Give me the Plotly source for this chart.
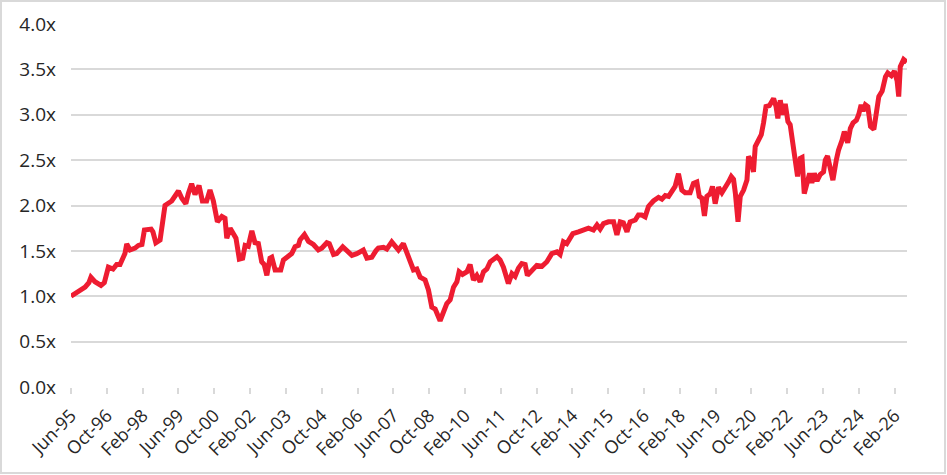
import plotly.graph_objects as go

# months since Jun-1995 and the multiple at each point
months = [
    0, 2, 3.3, 5, 6.3, 8, 8.9, 10.7, 13.4, 14.9, 16.7, 18.8, 20.4, 21.9, 24.1, 24.9,
    26.4, 28.6, 30.1, 31.7, 32.8, 35.8, 36.6, 37.9, 39.8, 41.3, 42, 45, 48, 49.5,
    51.3, 52.4, 53.9, 55.4, 57.2, 58.7, 60.6, 62.1, 63.6, 65.4, 67.4, 68.8, 69.6,
    71.1, 72.5, 73.7, 75.2, 76.7, 77.8, 79.2, 80.8, 82.2, 83.7, 85.2, 86.3, 87.5,
    88.9, 89.7, 91.2, 92.6, 93.7, 94.9, 97.1, 98.6, 100.1, 101.6, 102.3, 104.3,
    106.1, 108.3, 110.5, 112, 114.3, 115.4, 117.3, 118.7, 121.4, 123.2, 125.5,
    127.7, 129.2, 130.6, 132.2, 134.4, 136.2, 137.3, 139.6, 141.1, 143.3, 144.8,
    146.3, 148.5, 150, 151.5, 153, 154.5, 156, 158.2, 159.7, 161.2, 162.7, 164.9,
    166.4, 167.9, 169.4, 170.9, 172.4, 173.4, 174.9, 176.9, 178.3, 179.8, 181.3,
    182.8, 184.3, 185.8, 187.3, 190.3, 191.7, 193.2, 195.4, 197, 198.4, 199.9,
    201.4, 202.9, 203.9, 205.9, 208.1, 210.4, 212.6, 214.8, 217.1, 218.5, 220,
    221.5, 223, 224.2, 226.7, 229, 231.2, 233.4, 235, 236.4, 237.9, 240.1, 242.4,
    243.9, 245.4, 246.8, 248.4, 249.8, 252.1, 253.5, 255, 256.5, 258, 260.2, 262.5,
    264, 265.5, 267, 268.5, 269.9, 271.4, 272.9, 274.4, 276.6, 278.1, 279.6, 280.7,
    281.9, 283, 284.1, 285.6, 286.6, 287.8, 289.3, 290.8, 292.3, 293.8, 295, 296,
    296.8, 298, 299, 300.5, 302, 302.7, 303.9, 304.9, 305.7, 307.2, 308.4, 309.4,
    310.5, 312, 313.9, 315, 315.8, 316.9, 317.9, 319.1, 320.3, 321.3, 322.8, 323.6,
    324.6, 325.8, 326.6, 327.6, 328.8, 330, 331, 332.1, 333.3, 334.7, 336.2, 337,
    338, 338.9, 340.4, 341.9, 342.9, 344.5, 345.5, 347, 348.2, 349.4, 350.9, 351.9,
    353, 353.9, 354.9, 356, 357.2, 358.7, 359.9, 360.9, 362.4, 363.9, 364.9, 366.5,
    367.9, 369.1, 369.8, 370.5, 372, 373.5,
]
multiple = [
    1.00, 1.03, 1.06, 1.08, 1.10, 1.15, 1.21, 1.16, 1.12, 1.15, 1.32, 1.30, 1.35, 1.35, 1.47, 1.575,
    1.51, 1.53, 1.56, 1.57, 1.73, 1.74, 1.71, 1.59, 1.62, 1.88, 2.00, 2.05, 2.16, 2.08,
    2.02, 2.13, 2.24, 2.12, 2.22, 2.05, 2.05, 2.17, 2.05, 1.82, 1.88, 1.86, 1.64,
    1.75, 1.70, 1.64, 1.41, 1.42, 1.56, 1.55, 1.72, 1.59, 1.58, 1.38, 1.35, 1.23,
    1.42, 1.43, 1.29, 1.29, 1.29, 1.40, 1.445, 1.47, 1.545, 1.56, 1.62, 1.68,
    1.605, 1.57, 1.51, 1.53, 1.59, 1.58, 1.46, 1.47, 1.545, 1.50, 1.45,
    1.47, 1.49, 1.51, 1.42, 1.43, 1.50, 1.53, 1.54, 1.52, 1.60, 1.55,
    1.51, 1.58, 1.47, 1.38, 1.29, 1.30, 1.21, 1.18, 1.07, 0.88, 0.86, 0.73,
    0.83, 0.92, 0.96, 1.10, 1.16, 1.27, 1.24, 1.27, 1.35, 1.18, 1.23,
    1.16, 1.27, 1.30, 1.38, 1.435, 1.40, 1.32, 1.14, 1.25, 1.22, 1.31,
    1.36, 1.35, 1.23, 1.29, 1.34, 1.33, 1.38, 1.47, 1.49, 1.46, 1.60,
    1.58, 1.65, 1.69, 1.71, 1.73, 1.75, 1.73, 1.785, 1.74, 1.80, 1.82, 1.82,
    1.675, 1.82, 1.81, 1.71, 1.82, 1.84, 1.895, 1.895, 1.875, 1.99, 2.05, 2.09,
    2.07, 2.11, 2.10, 2.17, 2.21, 2.35, 2.17, 2.14, 2.14, 2.245, 2.26, 2.10,
    2.08, 1.885, 2.10, 2.13, 2.21, 2.02, 2.20, 2.14, 2.19, 2.26, 2.32, 2.29,
    2.14, 1.82, 2.10, 2.17, 2.28, 2.54, 2.49, 2.37, 2.65, 2.74, 2.78, 2.91,
    3.09, 3.10, 3.18, 3.09, 2.96, 3.16, 3.00, 3.12, 2.925, 2.89, 2.61, 2.55,
    2.32, 2.52, 2.53, 2.13, 2.27, 2.355, 2.25, 2.355, 2.27, 2.34, 2.37, 2.50,
    2.545, 2.45, 2.28, 2.50, 2.61, 2.72, 2.815, 2.69, 2.85, 2.91, 2.94, 3.00,
    3.11, 3.04, 3.11, 3.09, 2.87, 2.84, 3.05, 3.20, 3.26, 3.42, 3.46, 3.43,
    3.48, 3.37, 3.20, 3.53, 3.61, 3.58,
]

# x-axis labels, one every 16 months starting Jun-95
tick_labels = [
    "Jun-95", "Oct-96", "Feb-98", "Jun-99", "Oct-00", "Feb-02", "Jun-03", "Oct-04",
    "Feb-06", "Jun-07", "Oct-08", "Feb-10", "Jun-11", "Oct-12", "Feb-14", "Jun-15",
    "Oct-16", "Feb-18", "Jun-19", "Oct-20", "Feb-22", "Jun-23", "Oct-24", "Feb-26",
]
tick_pos = [i * 16 for i in range(len(tick_labels))]
y_ticks = [0, 0.5, 1, 1.5, 2, 2.5, 3, 3.5, 4]

W, H = 947, 475
L, R, T, B = 71, 40, 24, 88
GRID = "#d9d9d9"
TEXT = "#262626"

fig = go.Figure()
fig.add_trace(go.Scatter(
    x=months, y=multiple, mode="lines",
    line=dict(color="#ee1c31", width=5),
    hoverinfo="skip", showlegend=False,
))

fig.update_xaxes(
    range=[0, 373.5], automargin=False,
    tickvals=tick_pos, ticktext=tick_labels, tickangle=-45,
    showgrid=False, zeroline=False,
    showline=False,
    ticks="outside", ticklen=6, tickcolor=GRID, tickwidth=1.5,
    ticklabelstandoff=4,
    tickfont=dict(family="Open Sans", size=18, color=TEXT),
)
fig.update_yaxes(
    range=[0, 4], automargin=False,
    tickvals=y_ticks, ticktext=[f"{v:.1f}x" for v in y_ticks],
    showgrid=True, gridcolor=GRID, gridwidth=1.5,
    zeroline=False, showline=False,
    ticks="", ticklabelstandoff=14,
    tickfont=dict(family="Open Sans", size=19, color=TEXT),
)

# outer frame around the whole picture
pw = W - L - R
ph = H - T - B
fig.add_shape(
    type="rect", xref="paper", yref="paper",
    x0=(-L + 1) / pw, x1=1 + (R - 2) / pw,
    y0=(-B + 2) / ph, y1=1 + (T - 1) / ph,
    line=dict(color=GRID, width=2), layer="below",
)

fig.update_layout(
    width=W, height=H,
    margin=dict(l=L, r=R, t=T, b=B),
    paper_bgcolor="white", plot_bgcolor="white",
)

# the page body has a default 8px margin; drop it so the figure sits at the corner
fig.write_html(
    "out.html",
    config={"displayModeBar": False},
    post_script="document.body.style.margin='0';",
)
